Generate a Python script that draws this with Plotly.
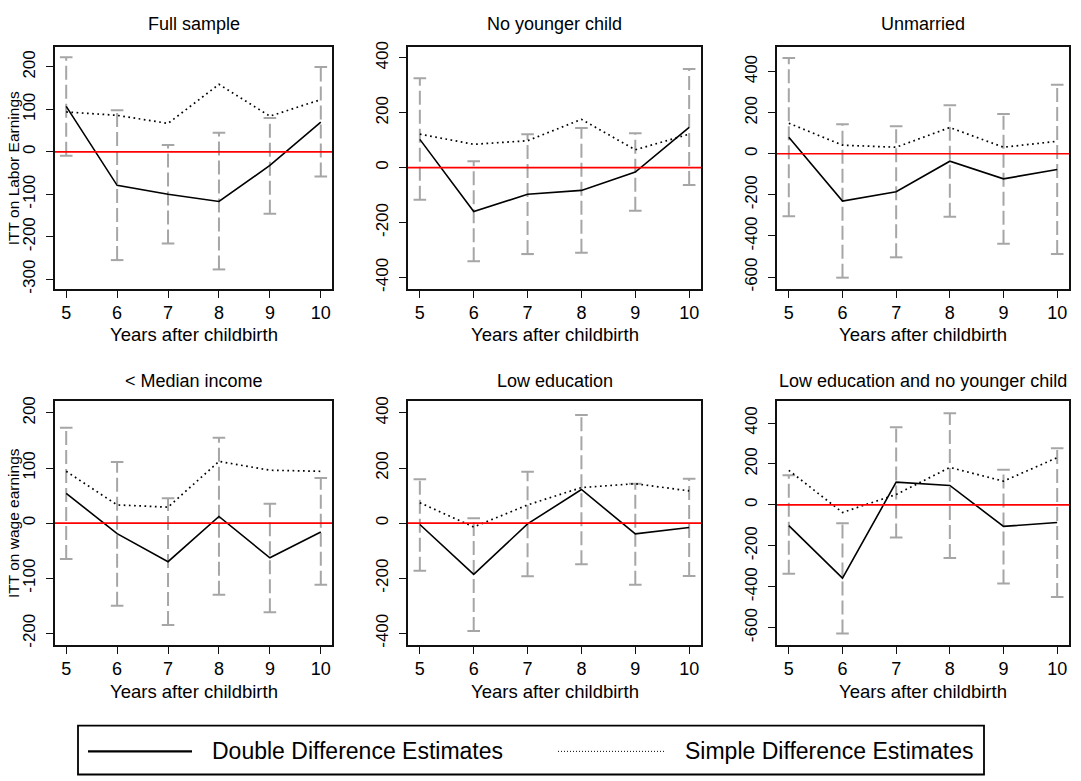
import plotly.graph_objects as go

W, H = 1081, 781
FONT = "Liberation Sans, Arial, Helvetica, sans-serif"

years = [5, 6, 7, 8, 9, 10]

titles = ["Full sample", "No younger child", "Unmarried",
          "< Median income", "Low education", "Low education and no younger child"]

# Double difference estimates (solid)
dd_full = [107, -79, -100, -117, -32, 70]
dd_noyoung = [103, -160, -97, -83, -16, 147]
dd_unmarried = [81, -230, -185, -36, -122, -76]
dd_median = [54, -19, -70, 12, -63, -16]
dd_lowedu = [-5, -186, -3, 122, -39, -16]
dd_lowedu_noyoung = [-101, -358, 111, 95, -105, -86]

# Simple difference estimates (dotted)
sd_full = [94, 86, 67, 159, 84, 123]
sd_noyoung = [122, 85, 98, 176, 65, 122]
sd_unmarried = [149, 42, 32, 128, 32, 61]
sd_median = [94, 33, 29, 112, 96, 94]
sd_lowedu = [74, -14, 66, 129, 143, 117]
sd_lowedu_noyoung = [169, -37, 51, 183, 116, 231]

# Confidence intervals of double difference estimates
lo_full = [-9, -255, -216, -277, -146, -58]
hi_full = [223, 98, 16, 45, 80, 200]
lo_noyoung = [-117, -341, -315, -310, -157, -63]
hi_noyoung = [326, 23, 122, 144, 125, 359]
lo_unmarried = [-304, -603, -504, -307, -438, -488]
hi_unmarried = [467, 144, 134, 237, 194, 336]
lo_median = [-65, -150, -185, -130, -162, -112]
hi_median = [173, 111, 45, 155, 35, 82]
lo_lowedu = [-173, -392, -193, -149, -224, -192]
hi_lowedu = [159, 18, 186, 392, 143, 161]
lo_lowedu_noyoung = [-337, -628, -159, -259, -384, -450]
hi_lowedu_noyoung = [145, -90, 379, 448, 172, 277]

# y tick labels per panel
yticks_full = [-300, -200, -100, 0, 100, 200]
yticks_noyoung = [-400, -200, 0, 200, 400]
yticks_unmarried = [-600, -400, -200, 0, 200, 400]
yticks_median = [-200, -100, 0, 100, 200]
yticks_lowedu = [-400, -200, 0, 200, 400]
yticks_lowedu_noyoung = [-600, -400, -200, 0, 200, 400]

y_titles = ["ITT on Labor Earnings", "", "", "ITT on wage earnings", "", ""]
x_title = "Years after childbirth"
legend_labels = ["Double Difference Estimates", "Simple Difference Estimates"]

dd_all = [dd_full, dd_noyoung, dd_unmarried, dd_median, dd_lowedu, dd_lowedu_noyoung]
sd_all = [sd_full, sd_noyoung, sd_unmarried, sd_median, sd_lowedu, sd_lowedu_noyoung]
lo_all = [lo_full, lo_noyoung, lo_unmarried, lo_median, lo_lowedu, lo_lowedu_noyoung]
hi_all = [hi_full, hi_noyoung, hi_unmarried, hi_median, hi_lowedu, hi_lowedu_noyoung]
yt_all = [yticks_full, yticks_noyoung, yticks_unmarried, yticks_median, yticks_lowedu, yticks_lowedu_noyoung]

# ---- layout geometry (pixels) ----
col_x = [(55, 332), (408, 701), (777, 1069)]
row_y = [(42, 287), (401, 648)]
y_ranges = [(-323, 246), (-442, 438), (-658, 518), (-221, 221), (-442, 442), (-684, 506)]
x_range = (4.78, 10.22)
title_y = [18, 380]
xtitle_y = [333, 695]

GRAY = "#A6A6A6"

def px_x(p):
    return p / W

def px_y(p):
    return 1 - p / H

fig = go.Figure()
layout = dict(
    width=W, height=H, margin=dict(l=0, r=0, t=0, b=0),
    paper_bgcolor="white", plot_bgcolor="white", showlegend=False,
    font=dict(family=FONT, color="black"),
)
annotations = []
shapes = []

for i in range(6):
    r, c = divmod(i, 3)
    ax = "" if i == 0 else str(i + 1)
    xr, yr = "x" + ax, "y" + ax
    x0, x1 = col_x[c]
    y0, y1 = row_y[r]
    yt = yt_all[i]
    layout["xaxis" + ax] = dict(
        domain=[px_x(x0), px_x(x1)], anchor=yr, range=list(x_range),
        tickvals=years, ticktext=[str(v) for v in years],
        showline=True, mirror=True, linecolor="#111111", linewidth=1.5,
        ticks="outside", ticklen=7, tickwidth=1, tickcolor="#111111",
        showgrid=False, zeroline=False, tickfont=dict(size=18),
        ticklabelstandoff=0,
    )
    layout["yaxis" + ax] = dict(
        domain=[px_y(y1), px_y(y0)], anchor=xr, range=list(y_ranges[i]),
        tickvals=yt, ticktext=[str(v) for v in yt], tickangle=-90,
        showline=True, mirror=True, linecolor="#111111", linewidth=1.5,
        ticks="outside", ticklen=7, tickwidth=1, tickcolor="#111111",
        showgrid=False, zeroline=False, tickfont=dict(size=17),
        ticklabelstandoff=4,
    )
    # confidence intervals: dashed gray bars with caps
    for k, yr_ in enumerate(years):
        fig.add_trace(go.Scatter(
            x=[yr_, yr_], y=[lo_all[i][k], hi_all[i][k]], xaxis=xr, yaxis=yr,
            mode="lines+markers",
            line=dict(color=GRAY, width=2, dash="14px,5px"),
            marker=dict(symbol="line-ew", size=9, line=dict(color=GRAY, width=2)),
            hoverinfo="skip",
        ))
    # simple difference (dotted)
    fig.add_trace(go.Scatter(
        x=years, y=sd_all[i], xaxis=xr, yaxis=yr, mode="lines",
        line=dict(color="black", width=1.7, dash="1.7px,3.5px"),
        name=legend_labels[1],
    ))
    # double difference (solid)
    fig.add_trace(go.Scatter(
        x=years, y=dd_all[i], xaxis=xr, yaxis=yr, mode="lines",
        line=dict(color="black", width=1.6), name=legend_labels[0],
    ))
    # zero reference line
    shapes.append(dict(type="line", xref=xr + " domain", yref=yr,
                       x0=0, x1=1, y0=0, y1=0,
                       line=dict(color="#FF0000", width=1.6)))
    # panel title
    annotations.append(dict(
        text=titles[i], x=px_x((x0 + x1) / 2), y=px_y(title_y[r]),
        xref="paper", yref="paper", xanchor="center", yanchor="middle",
        showarrow=False, font=dict(size=18)))
    # x axis title
    annotations.append(dict(
        text=x_title, x=px_x((x0 + x1) / 2), y=px_y(xtitle_y[r]),
        xref="paper", yref="paper", xanchor="center", yanchor="middle",
        showarrow=False, font=dict(size=18.5)))
    if y_titles[i]:
        annotations.append(dict(
            text=y_titles[i], x=px_x(13), y=px_y((y0 + y1) / 2),
            xref="paper", yref="paper", xanchor="center", yanchor="middle",
            textangle=-90, showarrow=False, font=dict(size=15.5)))

# ---- legend (drawn manually, R style) ----
leg_y = 756
shapes.append(dict(type="rect", xref="paper", yref="paper",
                   x0=px_x(78), x1=px_x(984), y0=px_y(779.5), y1=px_y(730),
                   line=dict(color="black", width=1.8), fillcolor="rgba(0,0,0,0)"))
shapes.append(dict(type="line", xref="paper", yref="paper",
                   x0=px_x(88), x1=px_x(192), y0=px_y(leg_y), y1=px_y(leg_y),
                   line=dict(color="black", width=2.4)))
shapes.append(dict(type="line", xref="paper", yref="paper",
                   x0=px_x(558), x1=px_x(664), y0=px_y(leg_y), y1=px_y(leg_y),
                   line=dict(color="black", width=1, dash="1px,2px")))
annotations.append(dict(text=legend_labels[0], x=px_x(210), y=px_y(leg_y),
                        xref="paper", yref="paper", xanchor="left", yanchor="middle",
                        showarrow=False, font=dict(size=23)))
annotations.append(dict(text=legend_labels[1], x=px_x(683), y=px_y(leg_y),
                        xref="paper", yref="paper", xanchor="left", yanchor="middle",
                        showarrow=False, font=dict(size=23)))

layout["annotations"] = annotations
layout["shapes"] = shapes
fig.update_layout(**layout)
fig.write_html(
    "out.html",
    config={"displayModeBar": False},
    post_script="document.body.style.margin='0';document.body.style.overflow='hidden';",
)
